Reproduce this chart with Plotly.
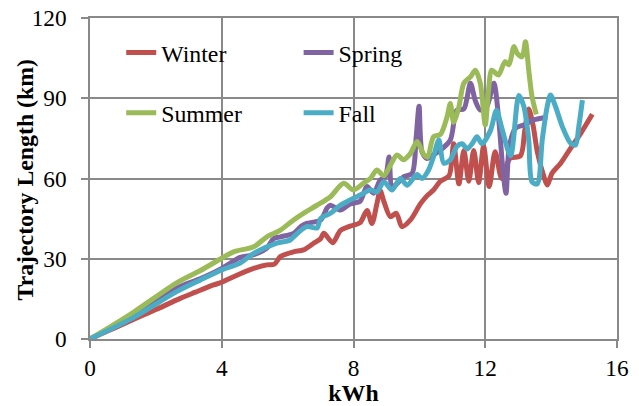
import plotly.graph_objects as go

# ---------------- data ----------------
winter_x = [0, 0.5, 1, 1.5, 2, 2.74, 3.2, 3.75, 4.0, 4.36, 4.97, 5.37, 5.6, 5.78, 6.18, 6.48,
            6.79, 7.0, 7.1, 7.37, 7.6, 7.9, 8.2, 8.41, 8.56, 8.71, 8.81, 8.92, 9.12, 9.3,
            9.47, 9.73, 10.03, 10.23, 10.43, 10.64, 10.9, 11.04, 11.2, 11.35, 11.5, 11.65,
            11.8, 11.95, 12.12, 12.3, 12.5, 12.75, 13.07, 13.2, 13.32, 13.45, 13.58, 13.78,
            13.88, 14.03, 14.29, 14.59, 14.9, 15.25]
winter_y = [0, 2.8, 5.5, 8.3, 11.0, 15.2, 17.5, 20.2, 21.2, 23.3, 26.4, 27.7, 28.0, 30.8, 32.6, 33.3,
            35.8, 37.5, 39.5, 36.0, 40.5, 42.2, 43.5, 48.0, 43.2, 50.5, 55.5, 51.5, 45.7, 47.0,
            42.0, 44.5, 50.5, 53.5, 55.7, 59.0, 61.0, 73.0, 58.0, 70.5, 59.0, 70.5,
            58.5, 72.0, 57.0, 70.0, 60.0, 67.5, 68.5, 78.0, 86.0, 80.0, 70.0, 60.7,
            57.6, 62.0, 65.7, 71.3, 76.9, 84.0]

spring_x = [0, 1.32, 2.63, 3.34, 4.0, 4.56, 4.97, 5.37, 5.57, 5.78, 6.18, 6.4, 6.58, 7.0, 7.2,
            7.3, 7.6, 7.9, 8.2, 8.41, 8.61, 8.81, 8.97, 9.08, 9.17, 9.32, 9.52, 9.78, 9.9, 9.99,
            10.08, 10.23, 10.45, 10.64, 10.94, 11.14, 11.35, 11.55, 11.7, 11.85, 12.05, 12.26,
            12.41, 12.53, 12.63, 12.73, 12.92, 13.17, 13.47, 13.88]
spring_y = [0, 8.8, 19.0, 22.5, 26.4, 30.5, 31.5, 34.0, 37.5, 38.2, 39.5, 42.0, 43.2, 44.5, 49.0,
            50.0, 48.2, 50.5, 51.5, 57.0, 54.5, 59.4, 60.8, 68.0, 57.0, 58.0, 60.6, 62.0, 75.0, 87.0,
            70.0, 67.5, 69.0, 70.6, 74.4, 85.6, 86.0, 95.6, 89.0, 85.6, 87.0, 95.6,
            82.0, 64.0, 54.5, 72.0, 78.8, 80.0, 81.9, 82.9]

summer_x = [0, 1.32, 2.63, 3.34, 4.0, 4.36, 4.97, 5.37, 5.78, 6.18, 6.48, 6.89, 7.3, 7.7, 8.0,
            8.3, 8.51, 8.71, 8.92, 9.12, 9.32, 9.52, 9.73, 9.93, 10.13, 10.25, 10.43, 10.64,
            10.84, 10.94, 11.04, 11.2, 11.35, 11.55, 11.7, 11.85, 12.0, 12.1, 12.2, 12.4, 12.6,
            12.72, 12.87, 12.97, 13.12, 13.22, 13.32, 13.42, 13.55]
summer_y = [0, 10.0, 21.0, 25.5, 30.2, 32.6, 34.5, 38.2, 40.7, 44.5, 47.0, 50.0, 53.2, 58.2, 55.7,
            58.2, 60.0, 63.2, 61.0, 65.0, 68.8, 67.0, 69.4, 73.8, 69.0, 68.0, 75.6, 76.5,
            83.0, 88.0, 81.0, 86.8, 95.6, 98.0, 100.5, 95.6, 80.0, 93.0, 100.5, 98.7, 103.7,
            102.5, 109.3, 106.8, 105.5, 111.1, 100.5, 90.6, 84.0]

fall_x = [0, 1.32, 2.63, 3.34, 4.0, 4.56, 4.97, 5.67, 6.08, 6.18, 6.58, 6.89, 7.0, 7.3, 7.6, 7.9,
          8.2, 8.51, 8.71, 8.92, 9.17, 9.42, 9.63, 9.93, 10.08, 10.28, 10.43, 10.59, 10.74, 10.94,
          11.14, 11.3, 11.45, 11.6, 11.75, 11.9, 12.16, 12.34, 12.5, 12.77, 13.02, 13.17, 13.32,
          13.42, 13.58, 13.73, 13.88, 13.98, 14.13, 14.34, 14.59, 14.74, 14.84, 14.95]
fall_y = [0, 8.0, 17.7, 22.0, 25.8, 28.4, 32.0, 35.8, 37.0, 38.2, 42.0, 41.5, 45.0, 47.0, 50.0, 52.0,
          53.8, 55.7, 55.0, 58.8, 55.7, 60.0, 57.5, 61.5, 60.0, 63.2, 68.2, 74.4, 65.7, 67.0,
          72.0, 73.0, 71.0, 73.0, 75.6, 73.0, 78.0, 85.5, 79.0, 68.5, 91.0, 87.0, 74.4,
          58.8, 58.0, 74.4, 86.8, 91.2, 87.0, 79.4, 73.2, 72.5, 79.4, 89.3]

x_ticks = [0, 4, 8, 12, 16]
y_ticks = [0, 30, 60, 90, 120]
x_title = "kWh"
y_title = "Trajectory Length (km)"

series = [
    ("Winter", winter_x, winter_y, "#C0504D", "legend"),
    ("Spring", spring_x, spring_y, "#8064A2", "legend2"),
    ("Summer", summer_x, summer_y, "#9BBB59", "legend3"),
    ("Fall", fall_x, fall_y, "#4BACC6", "legend4"),
]

FONT = "Liberation Serif"
GRID = "#898989"

fig = go.Figure()
for name, xs, ys, color, lg in series:
    fig.add_trace(go.Scatter(
        x=xs, y=ys, name=name, mode="lines",
        line=dict(color=color, width=5, shape="spline", smoothing=0.8),
        legend=lg,
    ))

W, H = 639, 406
ml, mr, mt, mb = 90, 22.3, 18, 67
pw, ph = W - ml - mr, H - mt - mb

def px2paper(px, py):
    return (px - ml) / pw, (H - mb - py) / ph

leg_common = dict(orientation="h", xanchor="left", yanchor="middle",
                  bgcolor="rgba(0,0,0,0)", borderwidth=0,
                  font=dict(family=FONT, size=23.8, color="#000000"))
positions = {"legend": (161.2, 52.5), "legend2": (338.5, 52.5),
             "legend3": (161.2, 112.7), "legend4": (338.5, 112.7)}
legends = {}
for key, (tx, ty) in positions.items():
    lx, ly = px2paper(tx - 40, ty)
    legends[key] = dict(x=lx, y=ly, **leg_common)

ytx, yty = px2paper(25.5, 180)

fig.update_layout(
    width=W, height=H,
    margin=dict(l=ml, r=mr, t=mt, b=mb, pad=0, autoexpand=False),
    paper_bgcolor="white", plot_bgcolor="white",
    font=dict(family=FONT, color="#000000"),
    showlegend=True,
    **legends,
    xaxis=dict(
        range=[0, 16], tickvals=x_ticks, ticktext=[str(v) for v in x_ticks],
        showgrid=True, gridcolor=GRID, gridwidth=1.5,
        showline=True, linecolor=GRID, linewidth=1.5, mirror=True,
        ticks="outside", ticklen=7, tickwidth=1.5, tickcolor=GRID,
        zeroline=False, ticklabelstandoff=0, automargin=False, ticklabeloverflow="allow",
        tickfont=dict(family=FONT, size=23.3, color="#000000"),
        title=dict(text=f"<b>{x_title}</b>", font=dict(family=FONT, size=23.8, color="#000000"), standoff=16),
    ),
    yaxis=dict(
        range=[0, 120], tickvals=y_ticks, ticktext=[str(v) for v in y_ticks],
        showgrid=True, gridcolor=GRID, gridwidth=1.5,
        showline=True, linecolor=GRID, linewidth=1.5, mirror=True,
        ticks="outside", ticklen=7, tickwidth=1.5, tickcolor=GRID,
        zeroline=False, ticklabelstandoff=10, automargin=False, ticklabeloverflow="allow",
        tickfont=dict(family=FONT, size=23.3, color="#000000"),
    ),
    annotations=[dict(
        text=f"<b>{y_title}</b>", xref="paper", yref="paper", x=ytx, y=yty,
        xanchor="center", yanchor="middle", textangle=-90, showarrow=False,
        font=dict(family=FONT, size=23.8, color="#000000"),
    )],
)

# remove the default 8px page margin so the figure fills the window exactly
fig.write_html("out.html", config={"displayModeBar": False},
               post_script="document.body.style.margin='0px';")
